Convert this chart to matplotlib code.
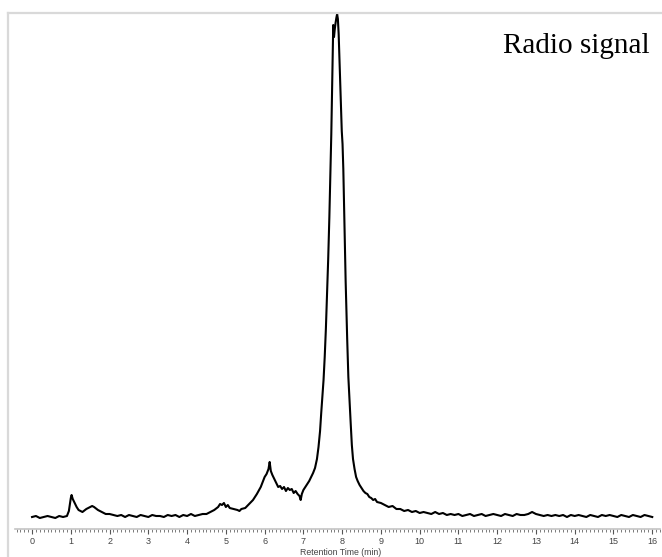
import matplotlib
matplotlib.use("Agg")
import matplotlib.pyplot as plt
from matplotlib.lines import Line2D
from matplotlib.ticker import MultipleLocator

# Radio-HPLC trace: retention time (min) vs detector signal (a.u.)
retention_time = [
    0.0, 0.1, 0.2, 0.3, 0.4, 0.5, 0.6, 0.7, 0.8, 0.9,
    0.95, 1.0, 1.02, 1.05, 1.1, 1.15, 1.2, 1.3, 1.4, 1.5, 1.55, 1.6, 1.7, 1.8, 1.9, 2.0,
    2.1, 2.2, 2.3, 2.4, 2.5, 2.6, 2.7, 2.8, 2.9, 3.0, 3.1, 3.2, 3.3, 3.4, 3.5, 3.6,
    3.7, 3.8, 3.9, 4.0, 4.1, 4.2, 4.3, 4.4,
    4.5, 4.6, 4.7, 4.8, 4.85, 4.9, 4.95, 5.0, 5.05, 5.1, 5.2, 5.3, 5.35, 5.4, 5.5,
    5.6, 5.7, 5.8, 5.9, 6.0, 6.05, 6.1, 6.13, 6.16, 6.2, 6.25, 6.3, 6.35, 6.4, 6.45,
    6.5, 6.55, 6.6, 6.65, 6.7, 6.75, 6.8, 6.85, 6.9, 6.93, 6.96, 7.0, 7.05, 7.1,
    7.15, 7.2, 7.25, 7.3, 7.35, 7.39, 7.43, 7.46, 7.49, 7.52, 7.55, 7.58, 7.61,
    7.64, 7.67, 7.7, 7.72, 7.74, 7.76, 7.77, 7.79, 7.81, 7.83, 7.85, 7.87, 7.89,
    7.91, 7.93, 7.95, 7.97, 7.99, 8.01, 8.03, 8.05, 8.07, 8.09, 8.11, 8.13, 8.16,
    8.19, 8.22, 8.25, 8.28, 8.32, 8.36, 8.4, 8.45, 8.5, 8.55, 8.6, 8.65, 8.7, 8.75,
    8.8, 8.85, 8.9, 9.0, 9.1, 9.2, 9.3, 9.4, 9.5, 9.6, 9.7, 9.8, 9.9, 10.0, 10.1,
    10.2, 10.3, 10.4, 10.5, 10.6, 10.7, 10.8, 10.9, 11.0, 11.1, 11.2, 11.3, 11.4,
    11.5, 11.6, 11.7, 11.8, 11.9, 12.0, 12.1, 12.2, 12.3, 12.4, 12.5, 12.6, 12.7,
    12.8, 12.9, 13.0, 13.1, 13.2, 13.3, 13.4, 13.5, 13.6, 13.7, 13.8, 13.9, 14.0,
    14.1, 14.2, 14.3, 14.4, 14.5, 14.6, 14.7, 14.8, 14.9, 15.0, 15.1, 15.2, 15.3,
    15.4, 15.5, 15.6, 15.7, 15.8, 15.9, 16.0,
]
signal = [
    12, 13, 11, 12, 13, 12, 11, 13, 12, 13,
    18, 31, 34, 30, 26, 22, 19, 17, 20, 22, 23, 22, 19, 17, 15, 15,
    14, 13, 14, 12, 14, 13, 12, 14, 13, 12, 14, 13, 13, 12, 14, 13,
    14, 12, 14, 13, 15, 13, 14, 15,
    15, 17, 19, 22, 25, 24, 26, 22, 24, 21, 20, 19, 18, 20, 21,
    25, 29, 35, 42, 52, 55, 60, 67, 58, 54, 50, 46, 42, 43, 40,
    42, 38, 41, 39, 40, 36, 38, 35, 33, 29, 35, 39, 42, 45,
    48, 52, 56, 61, 70, 82, 98, 116, 132, 149, 172, 200, 234,
    270, 312, 360, 395, 440, 480, 504, 492, 500, 506, 511, 515, 510,
    495, 470, 445, 420, 398, 385, 360, 322, 282, 248, 218, 190, 152,
    128, 106, 84, 70, 60, 52, 48, 44, 41, 38, 36, 35, 32, 31,
    29, 30, 27, 26, 24, 22, 23, 20, 20, 18, 19, 17, 18, 16, 17,
    16, 15, 17, 15, 16, 14, 15, 14, 15, 13, 14, 15, 13,
    14, 15, 13, 14, 15, 14, 13, 15, 14, 13, 15, 14, 14,
    15, 17, 15, 14, 13, 14, 13, 14, 13, 14, 12, 14, 13,
    14, 13, 12, 14, 13, 12, 14, 13, 14, 13, 12, 14, 13,
    12, 14, 13, 12, 14, 13, 12,
]

major_ticks = list(range(0, 17))

W, H = 662, 557
fig = plt.figure(figsize=(W / 100, H / 100), dpi=100)
fig.patch.set_facecolor("white")

# plot area: from x=15px to 660px, y from 13px (top) to 529px (axis line)
ax = fig.add_axes([15 / W, (H - 529) / H, 645 / W, 516 / H])
ax.plot(retention_time, signal, color="black", linewidth=1.5,
        solid_joinstyle="round")

ax.set_xlim(-0.44, 16.2)
ax.set_ylim(0, 516)

for side in ("top", "left", "right"):
    ax.spines[side].set_visible(False)
ax.spines["bottom"].set_color("#c4c4c4")
ax.spines["bottom"].set_linewidth(1.2)

ax.set_yticks([])
ax.set_xticks(major_ticks)
ax.set_xticklabels([str(t) for t in major_ticks])
ax.xaxis.set_minor_locator(MultipleLocator(0.1))
ax.tick_params(axis="x", which="major", length=3.8, width=0.8, color="#555555",
               labelsize=6.5, labelcolor="#444444", pad=2.2)
ax.tick_params(axis="x", which="minor", length=2.2, width=0.6, color="#666666")
for lab in ax.get_xticklabels():
    lab.set_family(["Liberation Sans", "DejaVu Sans"])

fig.text(341 / W, 1 - 557 / H, "Retention Time (min)", ha="center", va="bottom",
         fontsize=6.3, color="#444444", family=["Liberation Sans", "DejaVu Sans"])

# light grey frame along the left and top
fig.add_artist(Line2D([8 / W, 8 / W], [0, 1 - 13 / H], transform=fig.transFigure,
                      color="#d9d9d9", linewidth=1.6))
fig.add_artist(Line2D([8 / W, 1], [1 - 13 / H, 1 - 13 / H], transform=fig.transFigure,
                      color="#d9d9d9", linewidth=1.6))

fig.text(503 / W, 1 - 53.5 / H, "Radio signal", ha="left", va="baseline",
         fontsize=21, color="black", family=["Liberation Serif", "DejaVu Serif"])

fig.savefig("out.png", dpi=100)
